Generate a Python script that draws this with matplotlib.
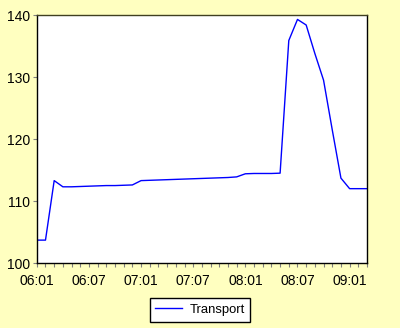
# Transport index, monthly 2006:01 - 2009:03 (EViews-style line chart)
import matplotlib
matplotlib.use("Agg")
from matplotlib import pyplot as plt
import pandas as pd

plt.rcParams['font.family'] = ['Liberation Sans', 'DejaVu Sans']

# data
months = pd.period_range("2006-01", "2009-03", freq="M")
transport = [103.7, 103.7, 113.3, 112.3, 112.3, 112.35, 112.4, 112.45, 112.5, 112.5,
             112.55, 112.6, 113.3, 113.35, 113.4, 113.45, 113.5, 113.55, 113.6, 113.65,
             113.7, 113.75, 113.8, 113.9, 114.4, 114.45, 114.45, 114.45, 114.5, 135.9,
             139.3, 138.4, 133.8, 129.5, 121.5, 113.7, 112.0, 112.0, 112.0]
y_ticks = [100, 110, 120, 130, 140]

x = list(range(len(months)))
labels = [p.strftime("%y:%m") for p in months]

bg = "#ffffc0"
fig = plt.figure(figsize=(4, 3.28), dpi=100, facecolor=bg)
ax = fig.add_axes([0.092, 0.198, 0.8255, 0.756])
ax.set_facecolor("white")

ax.plot(x, transport, color="#0000ff", lw=1, label="Transport")

ax.set_xlim(0, len(months) - 1)
ax.set_ylim(100, 140)
ax.set_yticks(y_ticks)
ax.set_xticks(x[::6])
ax.set_xticklabels(labels[::6])
ax.set_xticks(x, minor=True)

ax.tick_params(axis="both", which="major", labelsize=10, length=3, width=0.8,
               color="#808080", pad=2)
ax.tick_params(axis="x", which="major", pad=5)
ax.tick_params(axis="x", which="minor", length=3, width=0.8, color="#808080")
for s in ax.spines.values():
    s.set_linewidth(1)
    s.set_color("black")
ax.spines["top"].set_color("#404020")

leg = fig.legend(loc="center", bbox_to_anchor=(0.5, 0.055), bbox_transform=fig.transFigure,
                 fontsize=9.4, fancybox=False, framealpha=1, edgecolor="black",
                 handlelength=2.0, handletextpad=0.6, borderpad=0.45)
leg.get_frame().set_linewidth(1)

fig.savefig("out.png", dpi=100, facecolor=bg)
